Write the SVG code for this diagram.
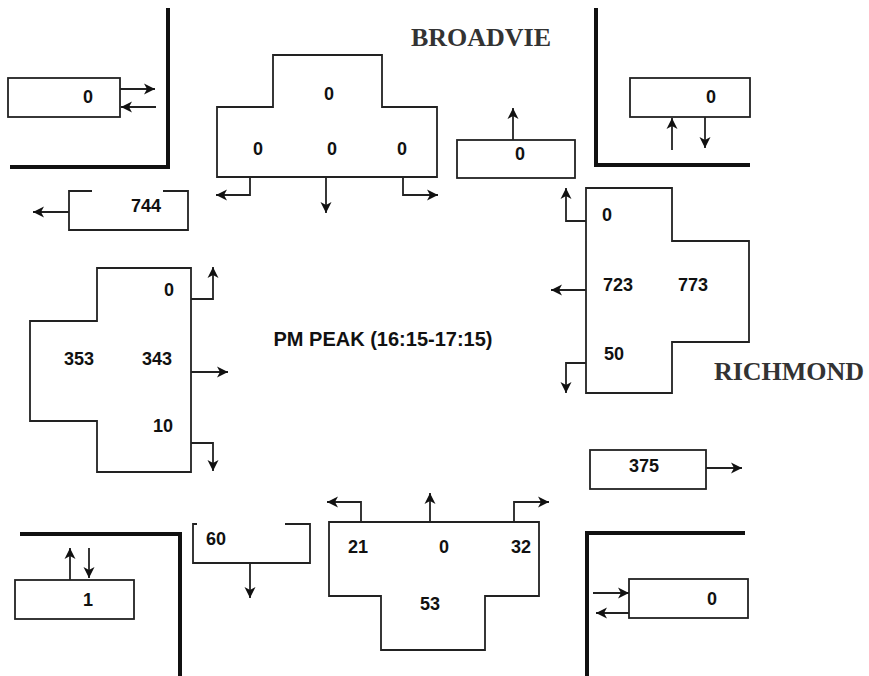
<svg xmlns="http://www.w3.org/2000/svg" width="869" height="676" viewBox="0 0 869 676">
<style>
.box{fill:none;stroke:#222;stroke-width:1.8}
.wall{fill:none;stroke:#111;stroke-width:4}
.arr{fill:none;stroke:#222;stroke-width:1.8;marker-end:url(#ah)}
.n{font-family:"Liberation Sans",Arial,sans-serif;font-size:18px;font-weight:bold;fill:#111;text-anchor:middle}
.road{font-family:"Liberation Serif","Times New Roman",serif;font-size:26px;font-weight:bold;fill:#333;text-anchor:middle}
.title{font-family:"Liberation Sans",Arial,sans-serif;font-size:20px;font-weight:bold;fill:#111;text-anchor:middle}
</style>
<defs>
<marker id="ah" markerUnits="userSpaceOnUse" markerWidth="13" markerHeight="13" viewBox="0 0 13 13" refX="11" refY="6.5" orient="auto">
<path d="M0,1 L11,6.5 L0,12 L3,6.5 Z" fill="#111"/>
</marker>
</defs>
<rect width="869" height="676" fill="#fff"/>

<g id="labels">
<text class="road" x="481" y="46">BROADVIE</text>
<text class="road" x="789" y="380">RICHMOND</text>
<text class="title" x="383" y="346">PM PEAK (16:15-17:15)</text>
</g>

<g id="walls">
<path class="wall" d="M168,8 V167 H10"/>
<path class="wall" d="M596,8 V165 H750"/>
<path class="wall" d="M20,534 H180 V676"/>
<path class="wall" d="M745,533 H587 V676"/>
</g>

<g id="nw-box">
<rect class="box" x="8" y="78" width="112" height="39"/>
<text class="n" x="88" y="103">0</text>
</g>
<g id="w-exit">
<path class="box" d="M92,191 H69 V230 H188 V191 H163"/>
<text class="n" x="146" y="212">744</text>
</g>
<g id="north-approach">
<path class="box" d="M273,55 H382 V107 H437 V177 H217 V107 H273 Z"/>
<text class="n" x="329" y="100">0</text>
<text class="n" x="258" y="155">0</text>
<text class="n" x="332" y="155">0</text>
<text class="n" x="402" y="155">0</text>
</g>
<g id="n-exit">
<rect class="box" x="457" y="140" width="118" height="38"/>
<text class="n" x="520" y="160">0</text>
</g>
<g id="ne-box">
<rect class="box" x="630" y="78" width="120" height="39"/>
<text class="n" x="711" y="103">0</text>
</g>
<g id="east-approach">
<path class="box" d="M586,188 H672 V241 H749 V342 H672 V393 H586 Z"/>
<text class="n" x="607" y="221">0</text>
<text class="n" x="618" y="291">723</text>
<text class="n" x="693" y="291">773</text>
<text class="n" x="614" y="360">50</text>
</g>
<g id="e-exit">
<rect class="box" x="590" y="450" width="116" height="39"/>
<text class="n" x="644" y="472">375</text>
</g>
<g id="west-approach">
<path class="box" d="M97,268 H191 V472 H97 V421 H30 V321 H97 Z"/>
<text class="n" x="169" y="296">0</text>
<text class="n" x="79" y="365">353</text>
<text class="n" x="157" y="365">343</text>
<text class="n" x="163" y="432">10</text>
</g>
<g id="sw-box">
<rect class="box" x="15" y="580" width="119" height="39"/>
<text class="n" x="88" y="606">1</text>
</g>
<g id="s-exit">
<path class="box" d="M197,524 H193 V563 H310 V524 H285"/>
<text class="n" x="216" y="545">60</text>
</g>
<g id="south-approach">
<path class="box" d="M329,522 H539 V596 H485 V650 H381 V596 H329 Z"/>
<text class="n" x="358" y="553">21</text>
<text class="n" x="444" y="553">0</text>
<text class="n" x="521" y="553">32</text>
<text class="n" x="430" y="610">53</text>
</g>
<g id="se-box">
<rect class="box" x="629" y="579" width="119" height="39"/>
<text class="n" x="712" y="605">0</text>
</g>

<g id="connectors">
<path class="arr" d="M120,89 H155"/>
<path class="arr" d="M156,107 H121"/>
<path class="arr" d="M69,212 H33"/>
<path class="arr" d="M250,177 V195 H216"/>
<path class="arr" d="M326,177 V213"/>
<path class="arr" d="M403,177 V195 H438"/>
<path class="arr" d="M513,140 V108"/>
<path class="arr" d="M672,150 V118"/>
<path class="arr" d="M705,117 V148"/>
<path class="arr" d="M586,221 H566 V188"/>
<path class="arr" d="M586,290 H551"/>
<path class="arr" d="M586,363 H566 V393"/>
<path class="arr" d="M706,468 H742"/>
<path class="arr" d="M191,299 H213 V267"/>
<path class="arr" d="M191,372 H228"/>
<path class="arr" d="M191,443 H213 V471"/>
<path class="arr" d="M70,580 V548"/>
<path class="arr" d="M89,548 V578"/>
<path class="arr" d="M250,563 V598"/>
<path class="arr" d="M361,522 V502 H327"/>
<path class="arr" d="M430,522 V493"/>
<path class="arr" d="M514,522 V502 H549"/>
<path class="arr" d="M593,593 H629"/>
<path class="arr" d="M629,613 H596"/>
</g>
</svg>
